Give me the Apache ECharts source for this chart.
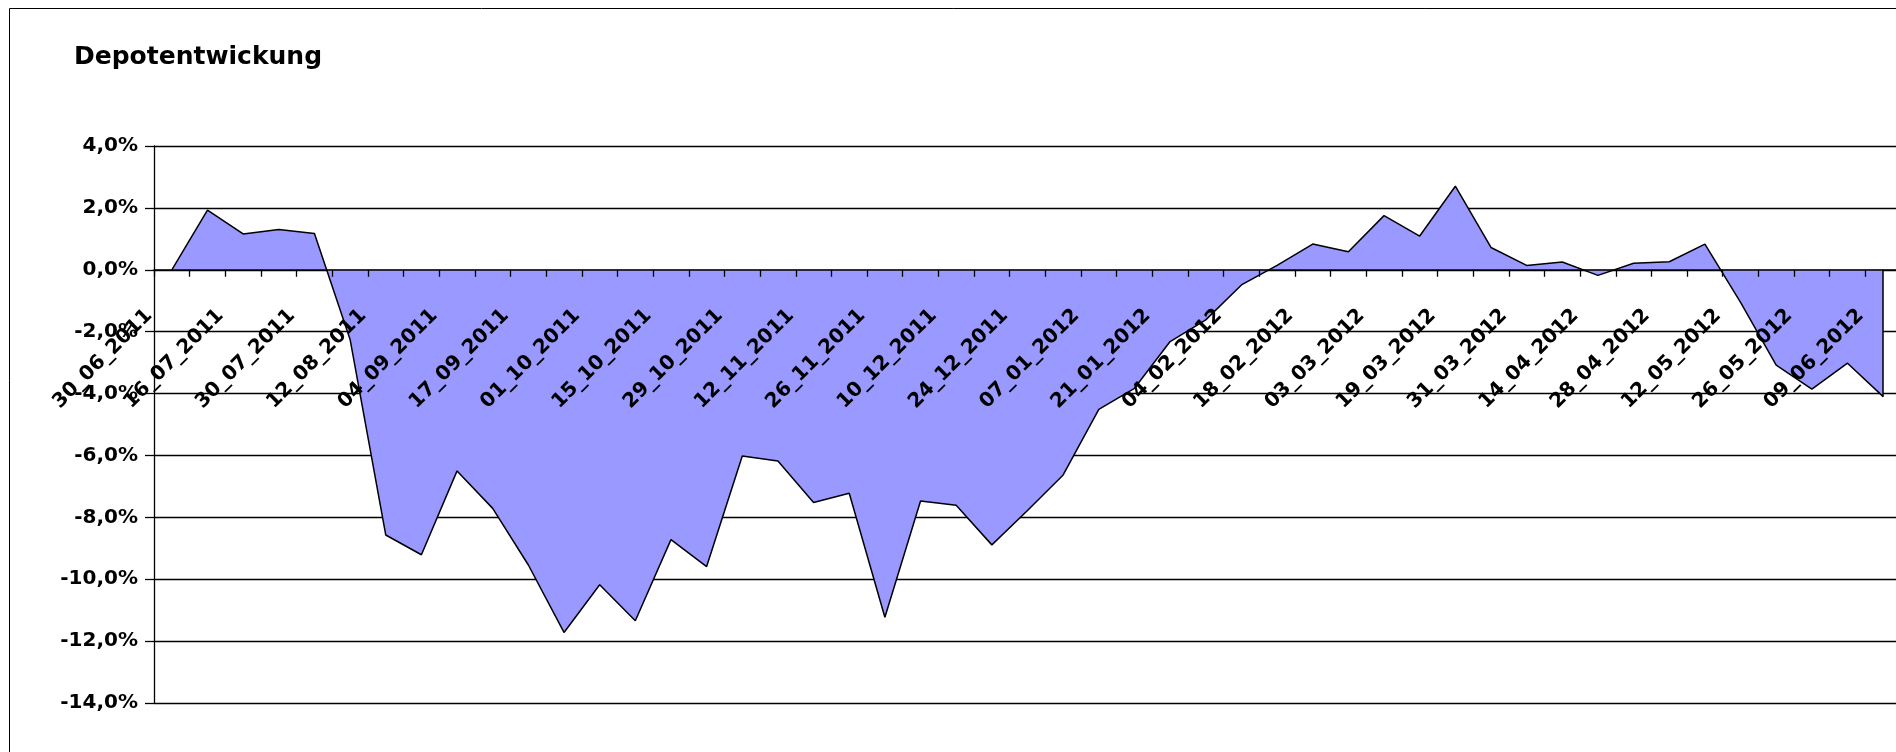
<!DOCTYPE html>
<html>
<head>
<meta charset="utf-8">
<script src="https://cdn.jsdelivr.net/npm/echarts@6/dist/echarts.min.js"></script>
<style>
  html, body { margin: 0; padding: 0; background: #fff; }
  #chart { width: 1896px; height: 752px; }
</style>
</head>
<body>
<div id="chart"></div>
<script>
// ---- data ----
const chartTitle = 'Depotentwickung';

const categories = [
  '30_06_2011', '09_07_2011', '16_07_2011', '23_07_2011', '30_07_2011', '06_08_2011',
  '12_08_2011', '27_08_2011', '04_09_2011', '10_09_2011', '17_09_2011', '24_09_2011',
  '01_10_2011', '08_10_2011', '15_10_2011', '22_10_2011', '29_10_2011', '05_11_2011',
  '12_11_2011', '19_11_2011', '26_11_2011', '03_12_2011', '10_12_2011', '17_12_2011',
  '24_12_2011', '31_12_2011', '07_01_2012', '14_01_2012', '21_01_2012', '28_01_2012',
  '04_02_2012', '11_02_2012', '18_02_2012', '25_02_2012', '03_03_2012', '10_03_2012',
  '19_03_2012', '24_03_2012', '31_03_2012', '07_04_2012', '14_04_2012', '21_04_2012',
  '28_04_2012', '05_05_2012', '12_05_2012', '19_05_2012', '26_05_2012', '02_06_2012',
  '09_06_2012'
];

// performance in percent
const depotValues = [
  0.00, 1.93, 1.16, 1.30, 1.17, -2.25,
  -8.57, -9.21, -6.50, -7.71, -9.54, -11.72,
  -10.18, -11.34, -8.72, -9.59, -6.02, -6.18,
  -7.52, -7.22, -11.23, -7.47, -7.61, -8.89,
  -7.78, -6.63, -4.51, -3.83, -2.32, -1.62,
  -0.49, 0.14, 0.83, 0.58, 1.75, 1.09,
  2.70, 0.72, 0.14, 0.25, -0.18, 0.21,
  0.26, 0.83, -1.05, -3.08, -3.86, -3.02,
  -4.10
];

const yTicks = [4, 2, 0, -2, -4, -6, -8, -10, -12, -14];

// ---- chart ----
const FONT = 'DejaVu Sans';
const yMin = Math.min(...yTicks);
const yMax = Math.max(...yTicks);
const yStep = yTicks[0] - yTicks[1];
const lastIdx = depotValues.length - 1;

const GRID = { left: 154, top: 146, width: 1747, height: 557 };
// the category axis sits on the value 0 of the value scale
const zeroOffset = -GRID.height * (0 - yMin) / (yMax - yMin);

const chart = echarts.init(document.getElementById('chart'), null, { renderer: 'canvas' });

chart.setOption({
  animation: false,
  backgroundColor: '#ffffff',
  title: {
    text: chartTitle,
    left: 74,
    top: 45,
    padding: 0,
    textStyle: { fontFamily: FONT, fontSize: 25, fontWeight: 'bold', color: '#000' }
  },
  graphic: [{
    type: 'rect',
    shape: { x: 9.5, y: 8.5, width: 2000, height: 1000 },
    style: { fill: 'none', stroke: '#000', lineWidth: 1 },
    silent: true,
    z: 100
  }],
  grid: {
    left: GRID.left,
    top: GRID.top,
    width: GRID.width,
    height: GRID.height,
    containLabel: false,
    outerBoundsMode: 'none'
  },
  xAxis: {
    type: 'category',
    data: categories,
    boundaryGap: true,
    position: 'bottom',
    offset: zeroOffset,
    z: 5,
    axisLine: { show: true, onZero: false, lineStyle: { color: '#000', width: 1.5 } },
    axisTick: { show: true, interval: 0, length: 7, lineStyle: { color: '#000', width: 1.3 } },
    axisLabel: {
      show: true,
      interval: 1,
      rotate: 45,
      margin: 20,
      padding: [0, 32, 0, 0],
      fontFamily: FONT,
      fontSize: 20,
      fontWeight: 'bold',
      color: '#000'
    },
    splitLine: { show: false }
  },
  yAxis: {
    type: 'value',
    min: yMin,
    max: yMax,
    interval: yStep,
    axisLine: { show: true, lineStyle: { color: '#000', width: 1.3 } },
    axisTick: { show: true, length: 9, lineStyle: { color: '#000', width: 1.3 } },
    axisLabel: {
      margin: 16,
      fontFamily: FONT,
      fontSize: 20,
      fontWeight: 'bold',
      color: '#000',
      formatter: v => v.toFixed(1).replace('.', ',') + '%'
    },
    splitLine: { show: true, lineStyle: { color: '#000', width: 1.4 } }
  },
  series: [{
    name: chartTitle,
    type: 'line',
    data: depotValues,
    symbol: 'none',
    smooth: false,
    lineStyle: { color: '#000', width: 1.5 },
    areaStyle: { color: '#9999ff', opacity: 1 },
    markLine: {
      silent: true,
      symbol: 'none',
      label: { show: false },
      lineStyle: { color: '#000', width: 1.5, type: 'solid' },
      data: [[
        { xAxis: categories[lastIdx], yAxis: 0 },
        { xAxis: categories[lastIdx], yAxis: depotValues[lastIdx] }
      ]]
    }
  }]
});
</script>
</body>
</html>
